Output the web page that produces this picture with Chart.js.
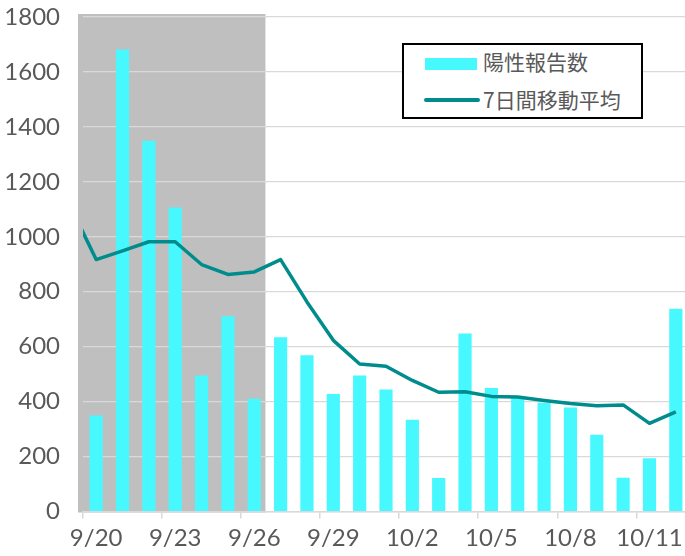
<!DOCTYPE html>
<html>
<head>
<meta charset="utf-8">
<script src="https://cdn.jsdelivr.net/npm/chart.js@4.4.1/dist/chart.umd.min.js"></script>
<style>
  html, body { margin: 0; padding: 0; background: #fff; overflow: hidden; }
  #wrap { position: relative; width: 690px; height: 556px; }
  #legend {
    position: absolute; left: 402px; top: 43px; width: 237px; height: 72px;
    border: 2px solid #000; background: #fff;
    font-family: "Noto Sans CJK JP", "Noto Sans", sans-serif; font-size: 21px; color: #595959;
  }
  .item { position: absolute; left: 0; height: 30px; display: block; }
  .sw { position: absolute; }
  .lbl { position: absolute; left: 79px; white-space: nowrap; line-height: 30px; top: 0; }
</style>
</head>
<body>
<div id="wrap">
  <canvas id="c"></canvas>
  <div id="legend"></div>
</div>
<script>
// ---- data ----
const categories = ['9/19','9/20','9/21','9/22','9/23','9/24','9/25','9/26','9/27','9/28','9/29','9/30',
  '10/1','10/2','10/3','10/4','10/5','10/6','10/7','10/8','10/9','10/10','10/11','10/12'];
const positiveReports = [null,349,1682,1350,1107,495,711,410,634,569,428,495,
  444,334,122,648,450,413,396,379,279,123,194,738];
const movingAverage7 = [1115,917,949,982,982,899,863,872,917,763,623,537,
  529,477,434,436,419,417,404,393,385,388,321,363];
const seriesNames = ['陽性報告数', '7日間移動平均'];
const yTicks = [0,200,400,600,800,1000,1200,1400,1600,1800];
const firstShown = '9/20';
const shadeFrom = '9/20';
const shadeTo = '9/26';
const labelEvery = 3;

const barColor = '#47F9FF';
const lineColor = '#008C8C';
const textColor = '#595959';
const gridColor = '#d9d9d9';

const shadePlugin = {
  id: 'shade',
  beforeDraw(chart) {
    const x = chart.scales.x, a = chart.chartArea, ctx = chart.ctx;
    const i0 = categories.indexOf(shadeFrom), i1 = categories.indexOf(shadeTo);
    const left = Math.min(x.getPixelForValue(i0 - 0.5), a.left) - 5;
    const right = x.getPixelForValue(i1 + 0.5) - 2;
    ctx.save();
    ctx.fillStyle = '#bfbfbf';
    ctx.fillRect(left, a.top - 3, right - left, a.bottom - a.top + 4);
    ctx.restore();
  }
};

const firstIdx = categories.indexOf(firstShown);
function shownTick(ctx) {
  return ctx.tick && ((ctx.tick.value - firstIdx) % labelEvery === 0);
}

new Chart(document.getElementById('c'), {
  data: {
    labels: categories,
    datasets: [
      { type: 'line', label: seriesNames[1], data: movingAverage7, borderColor: lineColor,
        borderWidth: 3.5, pointRadius: 0, tension: 0, order: 0, borderJoinStyle: 'round' },
      { type: 'bar', label: seriesNames[0], data: positiveReports, backgroundColor: barColor,
        categoryPercentage: 1, barPercentage: 0.5, order: 1 }
    ]
  },
  options: {
    responsive: true, maintainAspectRatio: false, animation: false, devicePixelRatio: 1,
    layout: { padding: { top: 17, right: 1, bottom: 0, left: 0 } },
    plugins: { legend: { display: false }, tooltip: { enabled: false } },
    scales: {
      x: {
        type: 'category', min: firstShown, offset: true,
        afterFit(s) { s.height = 44.5; },
        grid: { offset: true, drawOnChartArea: false, drawTicks: true, tickLength: 7, lineWidth: 1.5,
          tickColor: (ctx) => shownTick(ctx) ? gridColor : 'rgba(0,0,0,0)',
          color: (ctx) => shownTick(ctx) ? gridColor : 'rgba(0,0,0,0)' },
        border: { display: true, color: gridColor, width: 1.5 },
        ticks: {
          autoSkip: false, maxRotation: 0, minRotation: 0, padding: 5, color: textColor,
          font: { family: 'Lato', size: 24 },
          callback: function (v) { return ((v - firstIdx) % labelEvery === 0) ? this.getLabelForValue(v) : ''; }
        }
      },
      y: {
        min: yTicks[0], max: yTicks[yTicks.length - 1],
        afterFit(s) { s.width = 83; s.paddingTop = 0; s.paddingBottom = 0; },
        afterBuildTicks(s) { s.ticks = yTicks.map(v => ({ value: v })); },
        grid: { color: gridColor, lineWidth: 1.2, drawTicks: false },
        border: { display: false },
        ticks: { padding: 23, color: textColor, font: { family: 'Lato', size: 24 },
          callback: (v) => String(v) }
      }
    }
  },
  plugins: [shadePlugin]
});

// HTML legend built from the series names
const legend = document.getElementById('legend');
legend.innerHTML =
  '<div class="item" style="top:3px;width:100%">' +
    '<div class="sw" style="left:21px;top:10px;width:52px;height:12px;background:' + barColor + '"></div>' +
    '<div class="lbl" style="top:-2px">' + seriesNames[0] + '</div></div>' +
  '<div class="item" style="top:40px;width:100%">' +
    '<div class="sw" style="left:20px;top:13px;width:56px;height:4px;border-radius:2px;background:' + lineColor + '"></div>' +
    '<div class="lbl" style="top:-1px">' + seriesNames[1] + '</div></div>';
</script>
</body>
</html>
